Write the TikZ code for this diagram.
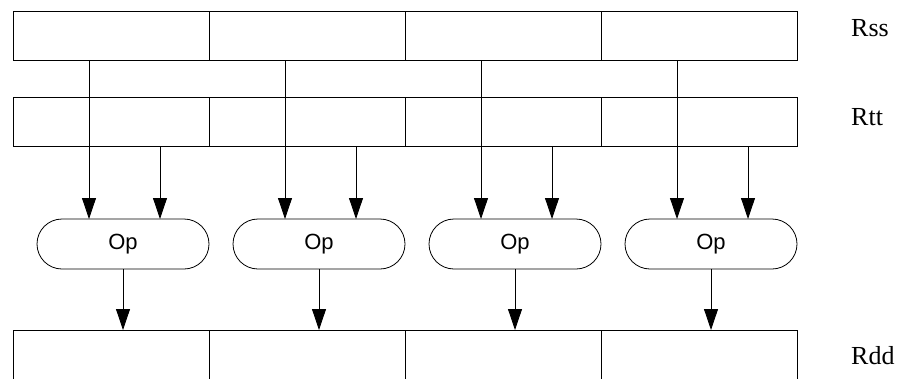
\documentclass[tikz,border=0pt]{standalone}
\usepackage{fontspec}
\setmainfont{Liberation Serif}
\newfontfamily\opfont{Liberation Sans}
\usetikzlibrary{arrows.meta,calc}
\begin{document}
\begin{tikzpicture}[x=1pt,y=-1pt,
  cell/.style={draw, line width=0.8pt, rectangle, minimum width=196pt, minimum height=49pt, inner sep=0pt, outer sep=0pt},
  rddcell/.style={cell, minimum height=54pt},
  opbox/.style={draw, line width=0.8pt, rectangle, rounded corners=25pt, minimum width=172pt, minimum height=50pt, inner sep=0pt, outer sep=0pt, font=\opfont\fontsize{22}{25}\selectfont},
  reglabel/.style={anchor=base west, inner sep=0pt, font=\fontsize{26}{29}\selectfont},
  arr/.style={line width=0.8pt, -{Triangle[length=21pt,width=14pt]}}]
\useasboundingbox (0,0) rectangle (897,378);
\begin{scope}
\clip (0,0) rectangle (897,378);
\foreach \i in {1,2,3,4}{
  \pgfmathsetmacro{\cx}{111+196*(\i-1)}
  \node[cell] (ss\i) at (\cx,35.5) {};
  \node[cell] (tt\i) at (\cx,121.5) {};
  \node[rddcell] (dd\i) at (\cx,357) {};
  \node[opbox] (op\i) at (\cx+12,244) {Op};
}
\end{scope}
\foreach \i in {1,2,3,4}{
  \draw[arr] ([xshift=-22pt]ss\i.south) -- ([xshift=-22pt]ss\i.south |- op\i.north);
  \draw[arr] ([xshift=49pt]tt\i.south) -- ([xshift=49pt]tt\i.south |- op\i.north);
  \draw[arr] (op\i.south) -- (op\i.south |- dd\i.north);
}
\node[reglabel] (rss) at (851,36) {Rss};
\node[reglabel] (rtt) at (851,125) {Rtt};
\node[reglabel] (rdd) at (851,364) {Rdd};
\end{tikzpicture}
\end{document}
